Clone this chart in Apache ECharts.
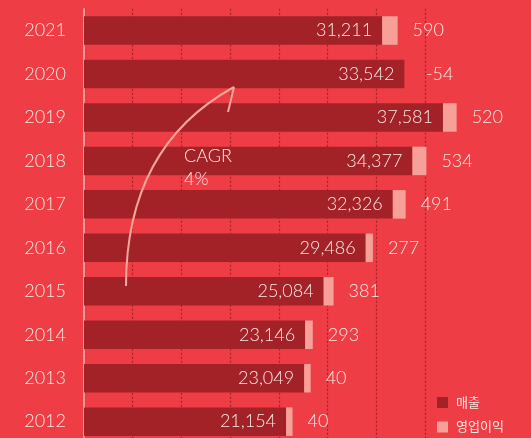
<!DOCTYPE html>
<html>
<head>
<meta charset="utf-8">
<script src="https://cdn.jsdelivr.net/npm/echarts@6/dist/echarts.min.js"></script>
<style>
  html, body { margin: 0; padding: 0; background: #ee3d45; }
  #chart { width: 531px; height: 438px; }
</style>
</head>
<body>
<div id="chart"></div>
<script>
// top to bottom
var years = ['2021', '2020', '2019', '2018', '2017', '2016', '2015', '2014', '2013', '2012']
var sales = [31211, 33542, 37581, 34377, 32326, 29486, 25084, 23146, 23049, 21154]
var profit = [590, -54, 520, 534, 491, 277, 381, 293, 40, 40]
var cagrText = ['CAGR', '4%']

// profit bars are drawn bigger than the sales scale so they show up
var PROFIT_SCALE = 2.75
var FONT = 'Lato, "Noto Sans CJK KR", sans-serif'
var TXT = '#fde8e6'

function fmt(v) {
  return String(v).replace(/\B(?=(\d{3})+(?!\d))/g, ',')
}

function legendBox(name, top) {
  return {
    orient: 'vertical',
    left: 437,
    top: top,
    itemWidth: 11,
    itemHeight: 11,
    icon: 'rect',
    padding: 0,
    textStyle: { color: TXT, fontSize: 13, fontFamily: FONT, padding: [0, 0, 0, 3] },
    data: [name]
  }
}

var chart = echarts.init(document.getElementById('chart'))

chart.setOption({
  backgroundColor: '#ee3d45',
  animation: false,
  textStyle: { fontFamily: FONT },
  grid: {
    left: 84,
    top: 8.8,
    height: 434.6,
    width: 341,
    outerBoundsMode: 'none'
  },
  legend: [legendBox('매출', 396), legendBox('영업이익', 420.5)],
  xAxis: {
    type: 'value',
    min: 0,
    max: 35700,
    interval: 5100,
    axisLabel: { show: false },
    axisLine: { show: false },
    axisTick: { show: false },
    splitLine: {
      show: true,
      lineStyle: { color: '#a6232a', width: 1.2, type: [2, 2] }
    }
  },
  yAxis: {
    type: 'category',
    inverse: true,
    data: years,
    axisTick: { show: false },
    axisLine: { lineStyle: { color: '#f8bcb7', width: 1.5 } },
    axisLabel: { color: TXT, fontSize: 18, margin: 18, fontFamily: FONT, fontWeight: 300 }
  },
  series: [
    {
      name: '매출',
      type: 'bar',
      stack: 'total',
      barWidth: 28.5,
      clip: false,
      itemStyle: { color: '#a32228' },
      label: {
        show: true,
        position: 'insideRight',
        distance: 10,
        color: TXT,
        fontSize: 18,
        fontWeight: 300,
        fontFamily: FONT,
        formatter: function (p) { return fmt(p.value) }
      },
      data: sales
    },
    {
      name: '영업이익',
      type: 'bar',
      stack: 'total',
      barWidth: 28.5,
      barMinHeight: 6.5,
      clip: false,
      itemStyle: { color: '#f6a098' },
      label: {
        show: true,
        position: 'right',
        distance: 15,
        color: TXT,
        fontSize: 18,
        fontWeight: 300,
        fontFamily: FONT,
        formatter: function (p) { return fmt(profit[p.dataIndex]) }
      },
      data: profit.map(function (v) {
        if (v <= 0) return { value: 0, itemStyle: { color: 'rgba(0,0,0,0)' } }
        return v * PROFIT_SCALE
      })
    }
  ],
  graphic: [
    {
      type: 'bezierCurve',
      z: 100,
      shape: { x1: 126, y1: 286, cpx1: 126, cpy1: 190, cpx2: 165, cpy2: 125, x2: 234, y2: 87 },
      style: { stroke: '#f6a59d', lineWidth: 2, fill: null }
    },
    {
      type: 'line',
      z: 100,
      shape: { x1: 234, y1: 87, x2: 228, y2: 112 },
      style: { stroke: '#f6a59d', lineWidth: 2 }
    },
    {
      type: 'text',
      z: 100,
      left: 184,
      top: 144,
      style: {
        text: cagrText.join('\n'),
        fill: TXT,
        fontSize: 18,
        fontWeight: 300,
        fontFamily: FONT,
        lineHeight: 23.5
      }
    }
  ]
})
</script>
</body>
</html>
